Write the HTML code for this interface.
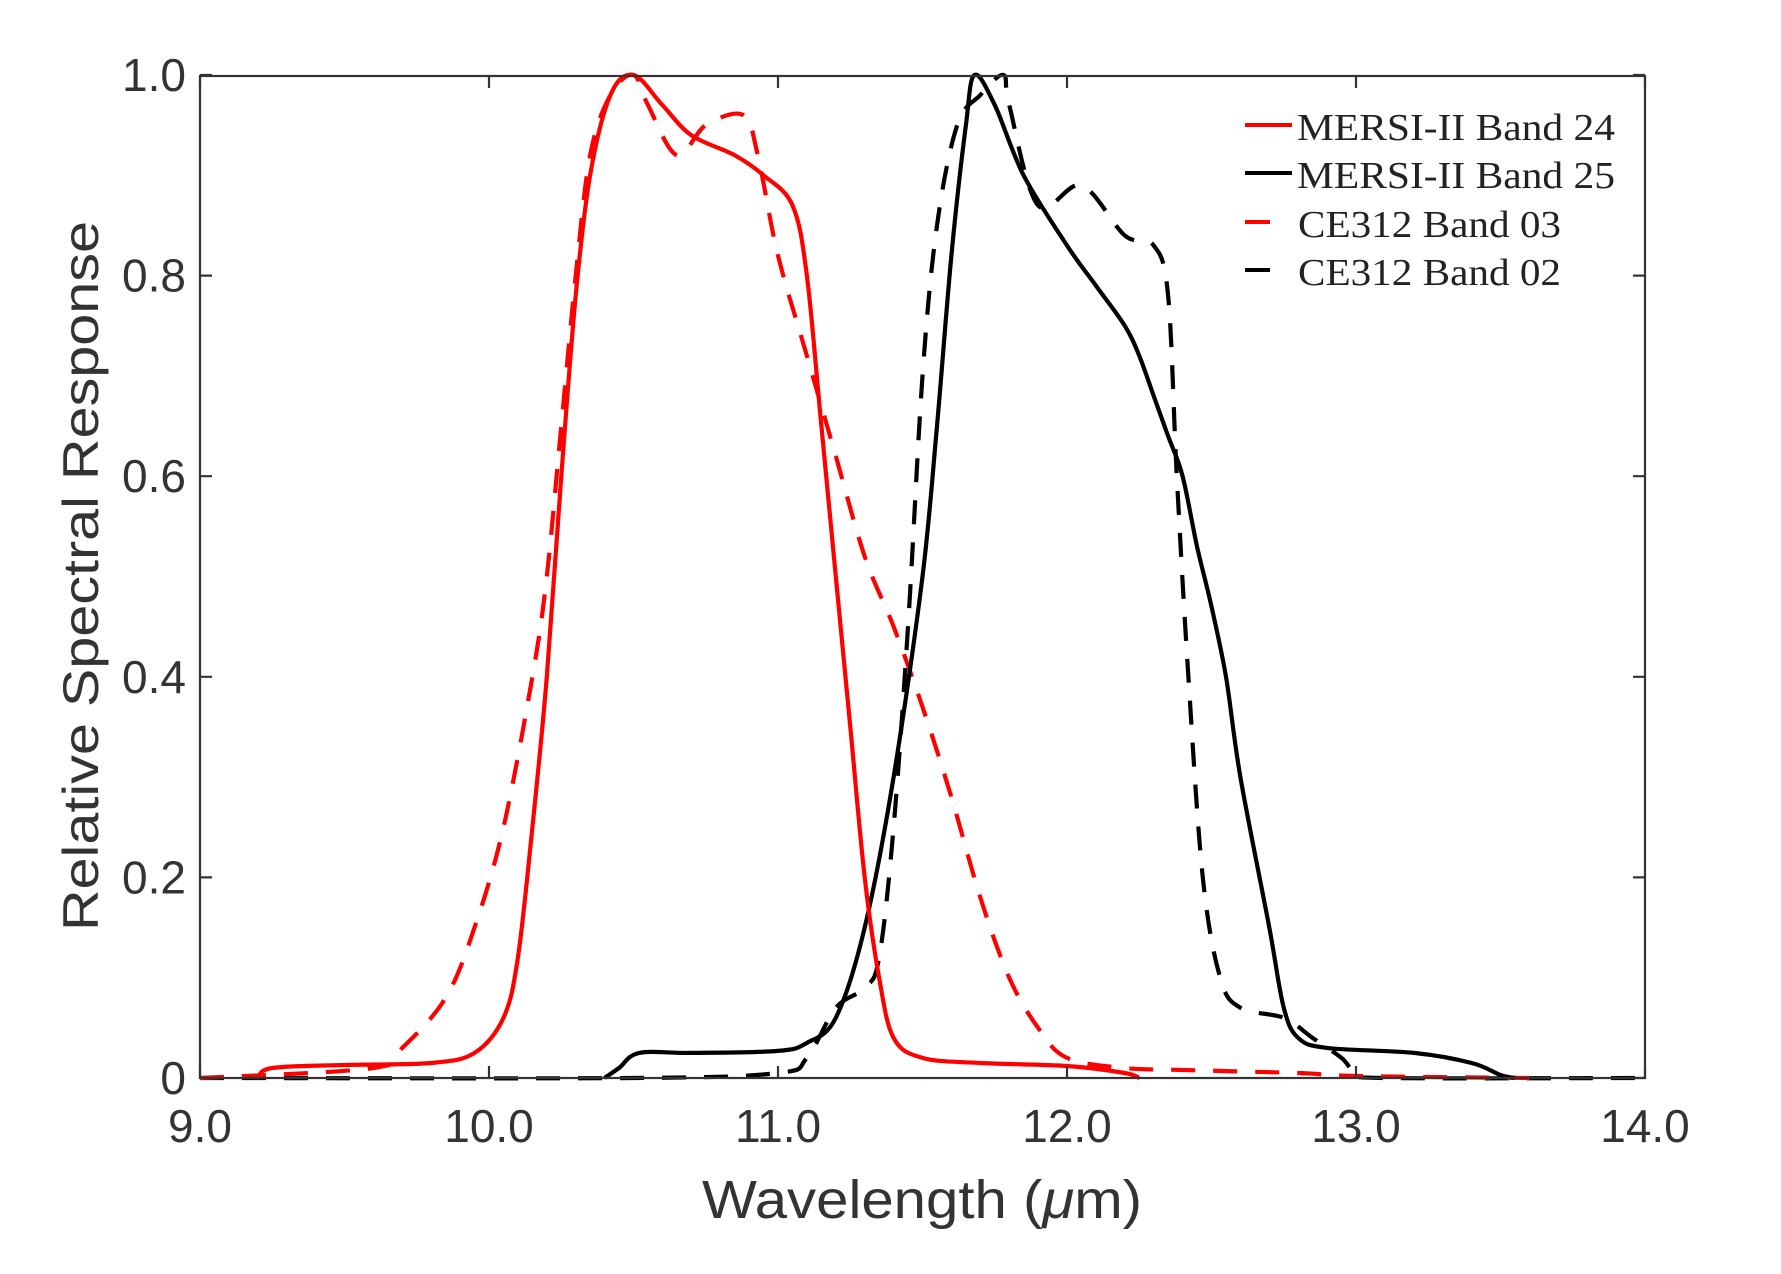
<!DOCTYPE html>
<html><head><meta charset="utf-8"><style>html,body{margin:0;padding:0;background:#fff}</style></head>
<body>
<svg width="1781" height="1269" viewBox="0 0 1781 1269" xmlns="http://www.w3.org/2000/svg">
<rect width="1781" height="1269" fill="#fff"/>
<g id="curves" fill="none" stroke-width="4.2" stroke-linejoin="round"></g>
<g stroke="#333" stroke-width="2.2" fill="none">
<rect x="200" y="76" width="1445" height="1002"/>
<path id="ticks" d=""/>
</g>
<g font-family="Liberation Sans, Arial, sans-serif" font-size="46" fill="#333" id="labels"></g>
<text x="922" y="1218" text-anchor="middle" font-family="Liberation Sans, Arial, sans-serif" font-size="54" fill="#333" textLength="440" lengthAdjust="spacingAndGlyphs">Wavelength (<tspan font-style="italic">μ</tspan>m)</text>
<text transform="translate(98,576) rotate(-90)" text-anchor="middle" font-family="Liberation Sans, Arial, sans-serif" font-size="50" fill="#333" textLength="710" lengthAdjust="spacingAndGlyphs">Relative Spectral Response</text>
<g font-family="Liberation Serif, Times New Roman, serif" font-size="38" fill="#222">
<line x1="1245" y1="125" x2="1292" y2="125" stroke="#f00" stroke-width="4"/>
<line x1="1245" y1="173" x2="1292" y2="173" stroke="#000" stroke-width="4"/>
<line x1="1245" y1="222" x2="1270" y2="222" stroke="#f00" stroke-width="4"/>
<line x1="1245" y1="270" x2="1270" y2="270" stroke="#000" stroke-width="4"/>
<text x="1297" y="140" textLength="318" lengthAdjust="spacingAndGlyphs">MERSI-II Band 24</text>
<text x="1297" y="188" textLength="318" lengthAdjust="spacingAndGlyphs">MERSI-II Band 25</text>
<text x="1298" y="237" textLength="263" lengthAdjust="spacingAndGlyphs">CE312 Band 03</text>
<text x="1298" y="285" textLength="263" lengthAdjust="spacingAndGlyphs">CE312 Band 02</text>
</g>
</svg>
<script>
const X=w=>200+(w-9)*289, Y=v=>1078-v*1003;
const ns="http://www.w3.org/2000/svg";
function path(pts,color,dash){const el=document.createElementNS(ns,"path");
const P=pts.map(q=>[X(q[0]),Y(q[1])]);let d="M"+P[0][0].toFixed(1)+","+P[0][1].toFixed(1);
for(let i=0;i<P.length-1;i++){const p0=P[Math.max(i-1,0)],p1=P[i],p2=P[i+1],p3=P[Math.min(i+2,P.length-1)];
const c1=[p1[0]+(p2[0]-p0[0])/6,p1[1]+(p2[1]-p0[1])/6],c2=[p2[0]-(p3[0]-p1[0])/6,p2[1]-(p3[1]-p1[1])/6];
d+="C"+c1[0].toFixed(1)+","+c1[1].toFixed(1)+" "+c2[0].toFixed(1)+","+c2[1].toFixed(1)+" "+p2[0].toFixed(1)+","+p2[1].toFixed(1);}
el.setAttribute("d",d);
el.setAttribute("stroke",color);if(dash)el.setAttribute("stroke-dasharray","24 18");
document.getElementById("curves").appendChild(el);}
path([[9,0],[10.5,0],[11,0.005],[11.1,0.02],[11.2,0.07],[11.3,0.09],[11.35,0.12],[11.4,0.25],[11.45,0.45],[11.5,0.7],[11.55,0.85],[11.62,0.95],[11.7,0.98],[11.78,1.0],[11.8,0.97],[11.9,0.87],[12.05,0.89],[12.2,0.84],[12.3,0.83],[12.35,0.78],[12.38,0.6],[12.42,0.4],[12.47,0.2],[12.53,0.1],[12.6,0.07],[12.75,0.06],[12.85,0.04],[12.95,0.02],[13,0.005],[13.1,0],[14,0]],"#000",1);
path([[9,0],[9.6,0.01],[9.7,0.03],[9.85,0.08],[9.95,0.15],[10.05,0.25],[10.15,0.4],[10.2,0.5],[10.25,0.65],[10.3,0.8],[10.35,0.92],[10.42,0.98],[10.5,1.0],[10.55,0.97],[10.65,0.92],[10.75,0.95],[10.88,0.96],[10.93,0.92],[11,0.82],[11.1,0.72],[11.2,0.62],[11.3,0.52],[11.4,0.45],[11.5,0.37],[11.6,0.28],[11.7,0.18],[11.8,0.1],[11.9,0.05],[12,0.02],[12.2,0.01],[12.4,0.008],[12.8,0.005],[13,0.002],[13.6,0]],"#f00",1);
path([[10.4,0],[10.45,0.01],[10.52,0.025],[10.7,0.025],[11,0.027],[11.1,0.035],[11.2,0.06],[11.3,0.15],[11.4,0.3],[11.5,0.5],[11.55,0.65],[11.6,0.82],[11.65,0.95],[11.68,1.0],[11.75,0.97],[11.85,0.9],[12,0.83],[12.1,0.79],[12.2,0.75],[12.25,0.72],[12.3,0.68],[12.35,0.64],[12.4,0.6],[12.45,0.53],[12.5,0.47],[12.55,0.4],[12.6,0.3],[12.7,0.15],[12.75,0.07],[12.8,0.04],[12.9,0.03],[13.2,0.025],[13.4,0.015],[13.5,0.003],[13.55,0]],"#000");
path([[9.2,0],[9.25,0.01],[9.5,0.013],[9.8,0.015],[9.95,0.025],[10.05,0.06],[10.1,0.12],[10.15,0.25],[10.2,0.4],[10.25,0.6],[10.3,0.78],[10.35,0.9],[10.42,0.98],[10.5,1.0],[10.6,0.97],[10.7,0.94],[10.85,0.92],[10.95,0.9],[11.05,0.87],[11.1,0.8],[11.15,0.65],[11.2,0.5],[11.25,0.35],[11.3,0.2],[11.35,0.1],[11.4,0.04],[11.5,0.02],[11.7,0.015],[12,0.012],[12.2,0.005],[12.25,0]],"#f00");
let d="";const L=document.getElementById("labels");
for(let i=0;i<=5;i++){const x=X(9+i);d+="M"+x+",1078v-12M"+x+",76v12";
const t=document.createElementNS(ns,"text");t.setAttribute("x",x);t.setAttribute("y",1142);t.setAttribute("text-anchor","middle");t.textContent=(9+i).toFixed(1);L.appendChild(t);}
for(let i=0;i<=5;i++){const y=Y(i*0.2);d+="M200,"+y+"h12M1645,"+y+"h-12";
const t=document.createElementNS(ns,"text");t.setAttribute("x",186);t.setAttribute("y",y+16);t.setAttribute("text-anchor","end");t.textContent=i==0?"0":(i*0.2).toFixed(1);L.appendChild(t);}
document.getElementById("ticks").setAttribute("d",d);
</script>
</body></html>
